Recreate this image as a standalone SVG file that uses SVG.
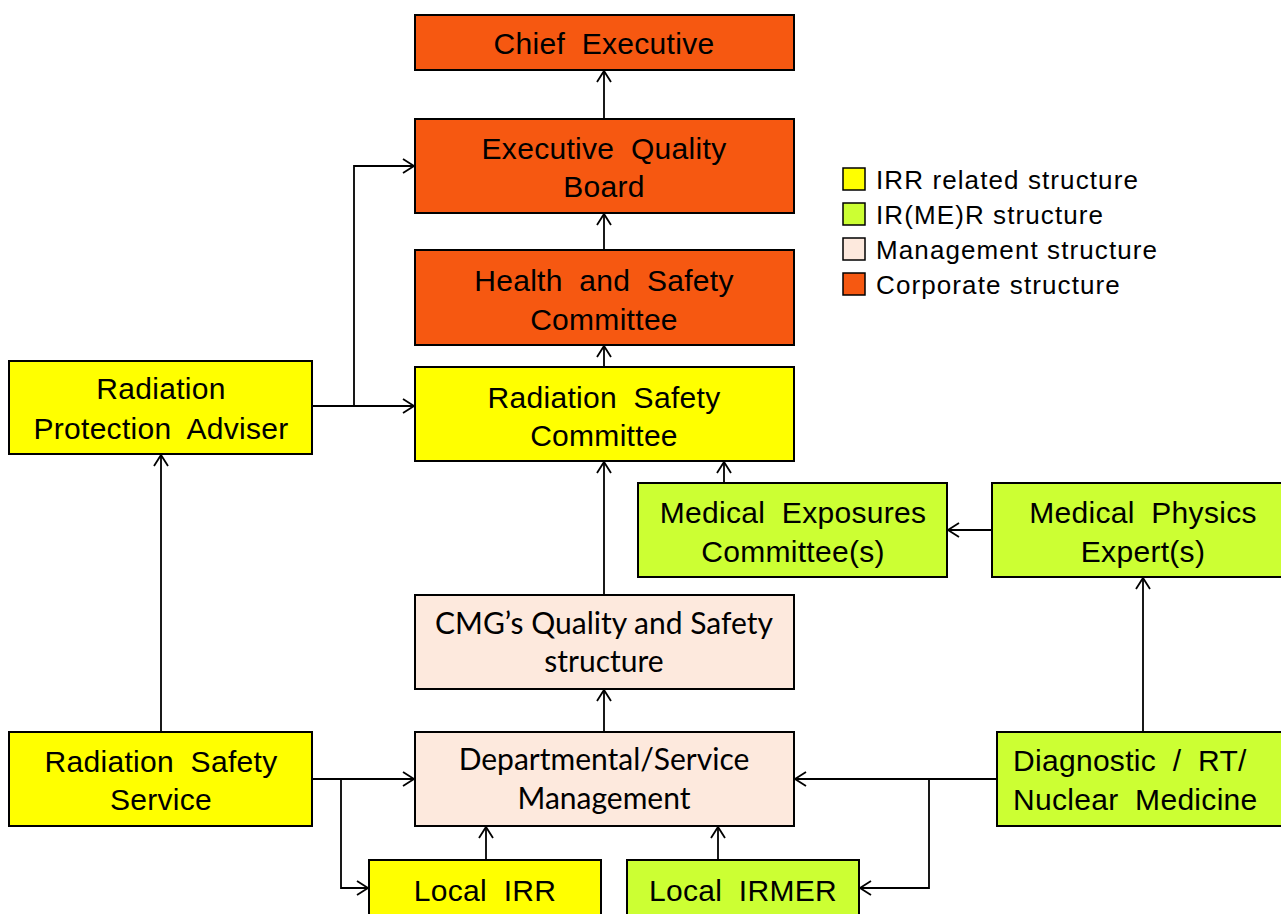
<svg xmlns="http://www.w3.org/2000/svg" width="1281" height="914" viewBox="0 0 1281 914">
<defs>
<marker id="arr" markerWidth="14" markerHeight="16" refX="12" refY="8" orient="auto" markerUnits="userSpaceOnUse">
<path d="M1,1 L12,8 L1,15" fill="none" stroke="#000" stroke-width="1.8"/>
</marker>
<style>
.box{stroke:#000;stroke-width:2}
.corp{fill:#F65811}
.irr{fill:#FFFF00}
.irmer{fill:#CCFF33}
.mgmt{fill:#FDE9DD}
.t{font-family:"Liberation Sans",Arial,sans-serif;font-size:30px;fill:#000;text-anchor:middle;word-spacing:8px;letter-spacing:0.3px}
.m{font-family:Lato,"Open Sans",sans-serif;font-size:30px;fill:#000;text-anchor:middle}
.lg{font-family:"Liberation Sans",Arial,sans-serif;font-size:26px;fill:#000;letter-spacing:1.1px}
.c{fill:none;stroke:#000;stroke-width:1.8}
</style>
</defs>
<rect width="1281" height="914" fill="#fff"/>
<g id="connectors">
<path class="c" d="M604,119 V71" marker-end="url(#arr)"/>
<path class="c" d="M604,250 V214" marker-end="url(#arr)"/>
<path class="c" d="M604,367 V346" marker-end="url(#arr)"/>
<path class="c" d="M312,406 H414" marker-end="url(#arr)"/>
<path class="c" d="M354,406 V166 H414" marker-end="url(#arr)"/>
<path class="c" d="M604,595 V462" marker-end="url(#arr)"/>
<path class="c" d="M724,483 V462" marker-end="url(#arr)"/>
<path class="c" d="M992,530 H948" marker-end="url(#arr)"/>
<path class="c" d="M1143,732 V578" marker-end="url(#arr)"/>
<path class="c" d="M604,732 V690" marker-end="url(#arr)"/>
<path class="c" d="M161,732 V455" marker-end="url(#arr)"/>
<path class="c" d="M312,779 H414" marker-end="url(#arr)"/>
<path class="c" d="M341,779 V888 H368" marker-end="url(#arr)"/>
<path class="c" d="M486,860 V827" marker-end="url(#arr)"/>
<path class="c" d="M718,860 V827" marker-end="url(#arr)"/>
<path class="c" d="M997,779 H795" marker-end="url(#arr)"/>
<path class="c" d="M929,779 V888 H860" marker-end="url(#arr)"/>
</g>
<g id="chief-executive">
<rect class="box corp" x="415" y="15" width="379" height="55"/>
<text class="t" x="604" y="54">Chief Executive</text>
</g>
<g id="executive-quality-board">
<rect class="box corp" x="415" y="119" width="379" height="94"/>
<text class="t" x="604" y="159">Executive Quality</text>
<text class="t" x="604" y="197">Board</text>
</g>
<g id="health-safety-committee">
<rect class="box corp" x="415" y="250" width="379" height="95"/>
<text class="t" x="604" y="291">Health and Safety</text>
<text class="t" x="604" y="330">Committee</text>
</g>
<g id="radiation-safety-committee">
<rect class="box irr" x="415" y="367" width="379" height="94"/>
<text class="t" x="604" y="408">Radiation Safety</text>
<text class="t" x="604" y="446">Committee</text>
</g>
<g id="radiation-protection-adviser">
<rect class="box irr" x="9" y="361" width="303" height="93"/>
<text class="t" x="161" y="399">Radiation</text>
<text class="t" x="161" y="439">Protection Adviser</text>
</g>
<g id="medical-exposures-committee">
<rect class="box irmer" x="638" y="483" width="309" height="94"/>
<text class="t" x="793" y="523">Medical Exposures</text>
<text class="t" x="793" y="562">Committee(s)</text>
</g>
<g id="medical-physics-expert">
<rect class="box irmer" x="992" y="483" width="302" height="94"/>
<text class="t" x="1143" y="523">Medical Physics</text>
<text class="t" x="1143" y="562">Expert(s)</text>
</g>
<g id="cmg-quality-safety">
<rect class="box mgmt" x="415" y="595" width="379" height="94"/>
<text class="m" x="604" y="634">CMG’s Quality and Safety</text>
<text class="m" x="604" y="672">structure</text>
</g>
<g id="departmental-service-management">
<rect class="box mgmt" x="415" y="732" width="379" height="94"/>
<text class="m" x="604" y="770">Departmental/Service</text>
<text class="m" x="604" y="809">Management</text>
</g>
<g id="radiation-safety-service">
<rect class="box irr" x="9" y="732" width="303" height="94"/>
<text class="t" x="161" y="772">Radiation Safety</text>
<text class="t" x="161" y="810">Service</text>
</g>
<g id="diagnostic-rt-nm">
<rect class="box irmer" x="997" y="732" width="297" height="94"/>
<text class="t" x="1013" y="771" style="text-anchor:start">Diagnostic / RT/</text>
<text class="t" x="1013" y="810" style="text-anchor:start">Nuclear Medicine</text>
</g>
<g id="local-irr">
<rect class="box irr" x="369" y="860" width="232" height="70"/>
<text class="t" x="485" y="901">Local IRR</text>
</g>
<g id="local-irmer">
<rect class="box irmer" x="627" y="860" width="232" height="70"/>
<text class="t" x="743" y="901">Local IRMER</text>
</g>
<g id="legend">
<rect class="box irr" x="843" y="168" width="22" height="22" style="stroke-width:1.5"/>
<text class="lg" x="876" y="189">IRR related structure</text>
<rect class="box irmer" x="843" y="203" width="22" height="22" style="stroke-width:1.5"/>
<text class="lg" x="876" y="224">IR(ME)R structure</text>
<rect class="box mgmt" x="843" y="238" width="22" height="22" style="stroke-width:1.5"/>
<text class="lg" x="876" y="259">Management structure</text>
<rect class="box corp" x="843" y="273" width="22" height="22" style="stroke-width:1.5"/>
<text class="lg" x="876" y="294">Corporate structure</text>
</g>
</svg>
